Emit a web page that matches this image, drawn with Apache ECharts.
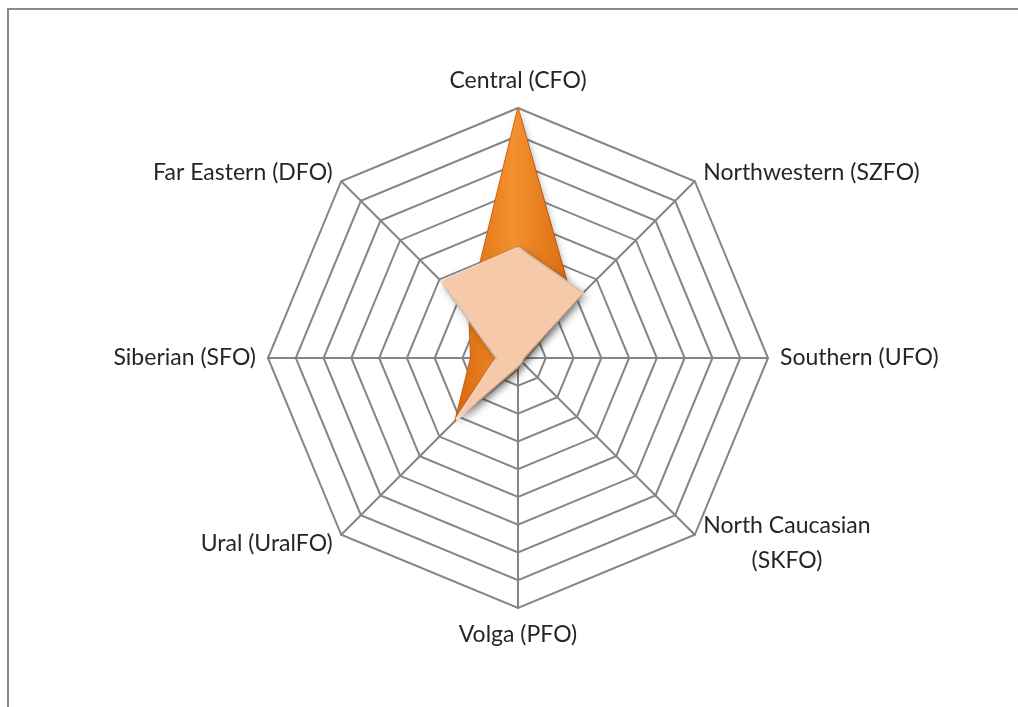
<!DOCTYPE html>
<html>
<head>
<meta charset="utf-8">
<script src="https://cdn.jsdelivr.net/npm/echarts@6/dist/echarts.min.js"></script>
<style>
  html, body { margin: 0; padding: 0; background: #fff; }
  #chart { position: absolute; left: 0; top: 0; width: 1018px; height: 707px; }
  #frame { position: absolute; left: 7px; top: 8px; width: 1100px; height: 800px;
           border-top: 2px solid #8a8a8a; border-left: 2px solid #8a8a8a; }
</style>
</head>
<body>
<div id="chart"></div>
<div id="frame"></div>
<script>
// indicators, counterclockwise from the top
const regions = ['Central (CFO)', 'Far Eastern (DFO)', 'Siberian (SFO)', 'Ural (UralFO)',
  'Volga (PFO)', 'North Caucasian\n(SKFO)', 'Southern (UFO)', 'Northwestern (SZFO)']
const orangeValues = [9.0, 2.5, 1.7, 3.2, 0.4, 0.2, 0.3, 2.8]
const peachValues = [3.95, 3.9, 0.75, 3.1, 0.3, 0.2, 0.2, 3.3]
const ringMax = 9

const chart = echarts.init(document.getElementById('chart'))

function labelFormatter(name) {
  if (name === 'Central (CFO)') return '{up|' + name + '}'
  if (name === 'Volga (PFO)') return '{down|' + name + '}'
  if (name.indexOf('\n') >= 0) {
    const parts = name.split('\n')
    return '{l1|' + parts[0] + '}\n{l2|' + parts[1] + '}'
  }
  return '{n|' + name + '}'
}

const baseText = { fontFamily: 'Lato', fontSize: 23, color: '#262626' }

chart.setOption({
  animation: false,
  radar: {
    center: [518, 358],
    radius: 250,
    startAngle: 90,
    splitNumber: ringMax,
    shape: 'polygon',
    nameGap: 12,
    indicator: regions.map(r => ({ name: r, min: 0, max: ringMax })),
    axisName: {
      formatter: labelFormatter,
      verticalAlign: 'middle',
      ...baseText,
      rich: {
        n: { ...baseText },
        up: { ...baseText, padding: [0, 0, 30, 0] },
        down: { ...baseText, padding: [30, 0, 0, 0] },
        l1: { ...baseText, lineHeight: 35 },
        l2: { ...baseText, lineHeight: 35, align: 'center' }
      }
    },
    axisLine: { lineStyle: { color: '#858585', width: 2 } },
    splitLine: { lineStyle: { color: '#858585', width: 2 } },
    splitArea: { show: false }
  },
  series: [{
    type: 'radar',
    symbol: 'none',
    data: [
      {
        value: orangeValues,
        lineStyle: { color: '#c9600f', width: 1.5 },
        areaStyle: {
          opacity: 1,
          color: new echarts.graphic.LinearGradient(0, 0, 1, 0, [
            { offset: 0, color: '#d8690f' },
            { offset: 0.5, color: '#f4902f' },
            { offset: 1, color: '#d8690f' }
          ]),
          shadowBlur: 6, shadowColor: 'rgba(0,0,0,0.25)', shadowOffsetX: 2, shadowOffsetY: 2
        }
      },
      {
        value: peachValues,
        lineStyle: { color: '#fbe4d4', width: 3 },
        areaStyle: {
          opacity: 1,
          color: '#f7c9ab',
          shadowBlur: 8, shadowColor: 'rgba(0,0,0,0.45)', shadowOffsetX: 3, shadowOffsetY: 3
        }
      }
    ]
  }]
})
</script>
</body>
</html>
